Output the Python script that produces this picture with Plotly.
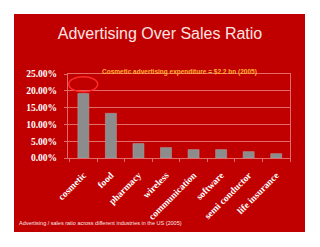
import plotly.graph_objects as go

categories = ["cosmetic", "food", "pharmacy", "wireless", "communication",
              "software", "semi conductor", "life insurance"]
ratios = [0.192, 0.133, 0.043, 0.031, 0.025, 0.025, 0.019, 0.013]
y_ticks = [0, 0.05, 0.10, 0.15, 0.20, 0.25]

RED = "#C00000"
GRID = "#E36A6A"

fig = go.Figure(go.Bar(
    x=categories, y=ratios,
    marker=dict(color="#8C8C8C", line=dict(color="#A8A8A8", width=0.5)),
    width=0.4,
))

fig.update_layout(
    width=320, height=247,
    margin=dict(l=68, r=30, t=74, b=89),
    paper_bgcolor="white",
    plot_bgcolor="rgba(0,0,0,0)",
    showlegend=False,
    title=dict(text="Advertising Over Sales Ratio", x=0.5, xref="container",
               y=1 - 33 / 247, yref="container", xanchor="center", yanchor="middle",
               font=dict(family="Liberation Sans, Arial", size=16, color="#FBE3E3")),
    shapes=[
        dict(type="rect", xref="paper", yref="paper",
             x0=(14 - 68) / 222, x1=(305 - 68) / 222,
             y0=(158 - 232) / 84, y1=(158 - 14) / 84,
             fillcolor=RED, line=dict(width=0), layer="below"),
        dict(type="circle", xref="x", yref="y",
             x0=-0.53, x1=0.52, y0=0.197, y1=0.242,
             line=dict(color="#FF2A2A", width=1.5)),
    ],
    annotations=[
        dict(text="<b>Cosmetic advertising expenditure = $2.2 bn (2005)</b>",
             xref="paper", yref="paper", x=0.5, y=(158 - 72) / 84,
             xanchor="center", yanchor="middle", showarrow=False,
             font=dict(family="Liberation Sans, Arial", size=6.5, color="#FFB030")),
        dict(text="Advertising / sales ratio across different industries in the US (2005)",
             xref="paper", yref="paper", x=(16.5 - 68) / 222, y=(158 - 222.7) / 84,
             xanchor="left", yanchor="middle", showarrow=False,
             font=dict(family="Liberation Sans, Arial", size=5.5, color="#F6E6E6")),
    ],
)

fig.update_xaxes(
    tickangle=-45, tickson="boundaries", ticks="outside", ticklen=3,
    tickcolor=GRID, showline=True, linecolor=GRID, mirror=True,
    showgrid=False, ticklabelstandoff=7,
    tickfont=dict(family="Liberation Serif, Times New Roman", size=9.5, color="white",
                  weight="bold"),
)
fig.update_yaxes(
    range=[0, 0.25], tickvals=y_ticks, tickformat=".2%",
    ticks="outside", ticklen=3, tickcolor=GRID,
    showline=True, linecolor=GRID, mirror=True, ticklabelstandoff=5,
    showgrid=True, gridcolor=GRID, gridwidth=1, zeroline=False,
    tickfont=dict(family="Liberation Serif, Times New Roman", size=9.5, color="white",
                  weight="bold"),
)

fig.write_html("out.html")
